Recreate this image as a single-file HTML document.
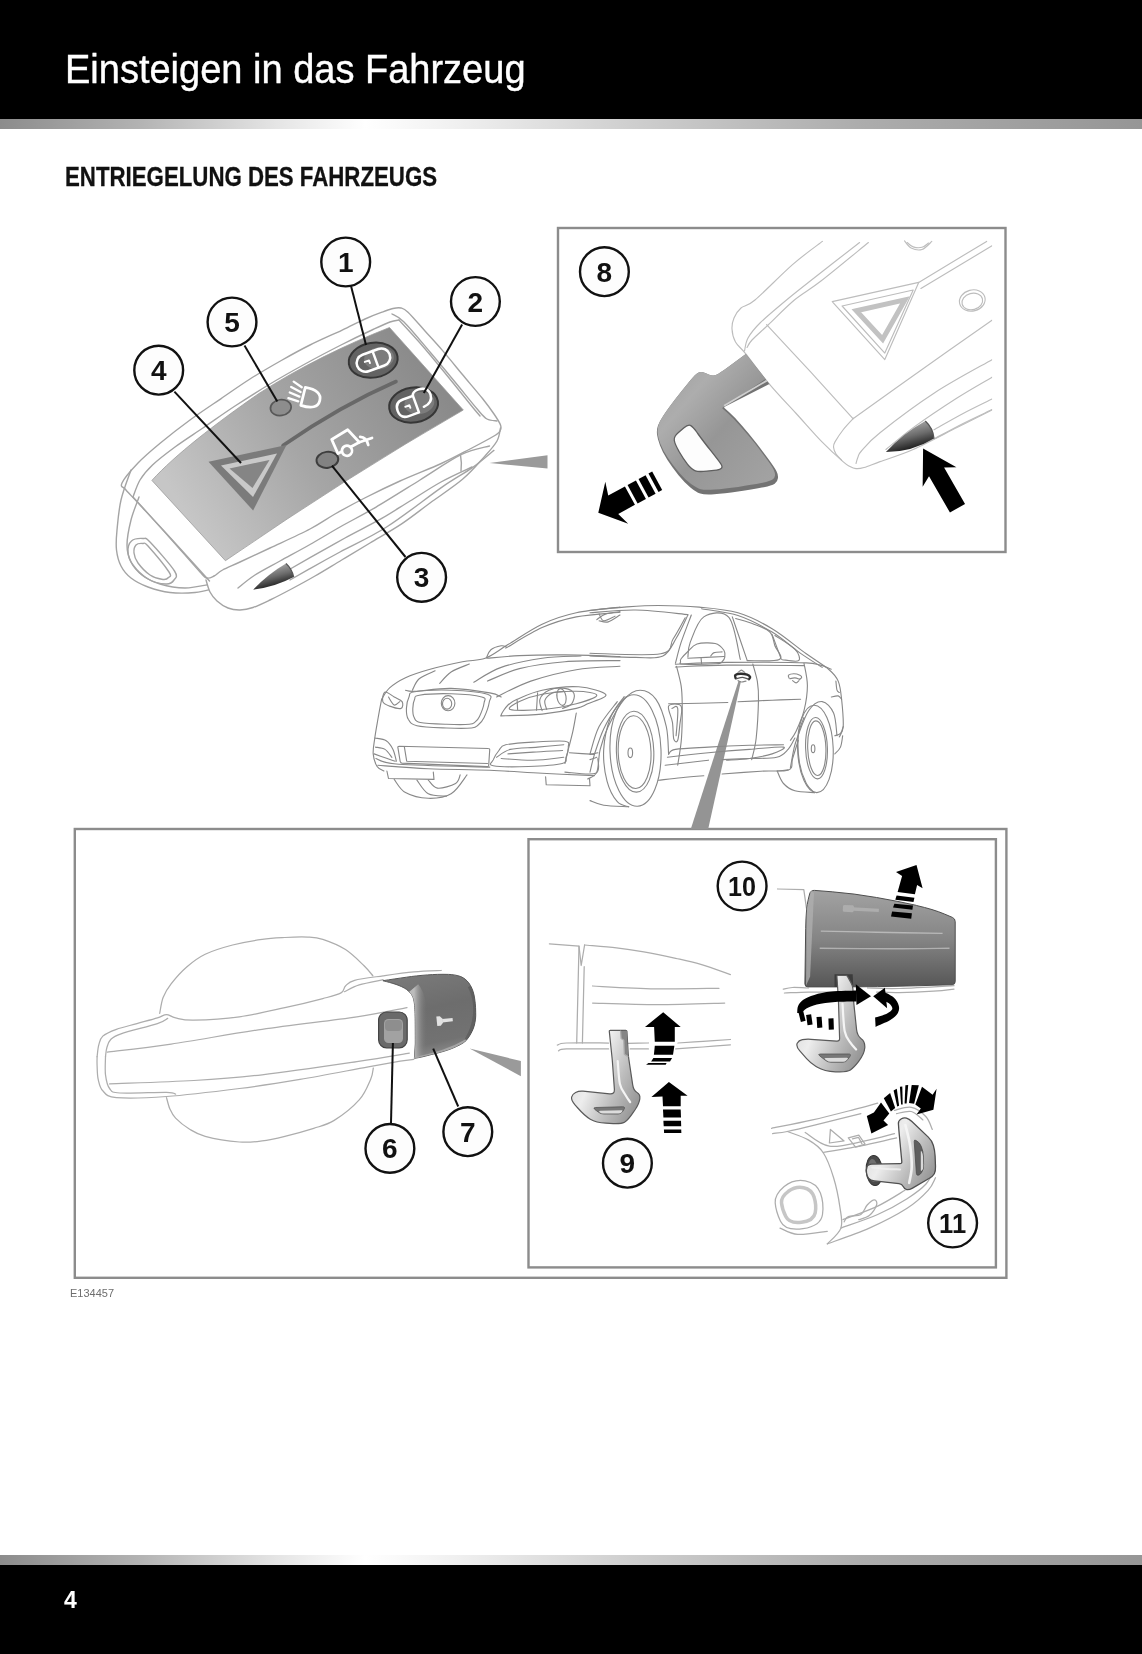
<!DOCTYPE html>
<html lang="de">
<head>
<meta charset="utf-8">
<title>Einsteigen in das Fahrzeug</title>
<style>
html,body{margin:0;padding:0;background:#fff;}
body{width:1142px;height:1654px;position:relative;overflow:hidden;filter:grayscale(1);font-family:"Liberation Sans",sans-serif;}
.hdr{position:absolute;left:0;top:0;width:1142px;height:119px;background:#000;}
.bar{position:absolute;left:0;width:1142px;height:10px;background:linear-gradient(90deg,#8c8c8c 0%,#b2b2b2 12%,#e4e4e4 24%,#ffffff 32%,#f0f0f0 40%,#cfcfcf 55%,#adadad 75%,#969696 100%);}
.bar.t{top:119px;}
.bar.b{top:1555px;}
.ftr{position:absolute;left:0;top:1565px;width:1142px;height:89px;background:#000;}
.title{position:absolute;left:65px;top:46px;color:#fff;font-size:40px;line-height:46px;white-space:nowrap;transform-origin:0 0;transform:scaleX(0.950);-webkit-text-stroke:0.4px #fff;}
.h2{position:absolute;left:65px;top:162px;color:#111;font-weight:bold;font-size:27px;line-height:30px;white-space:nowrap;transform-origin:0 0;transform:scaleX(0.824);-webkit-text-stroke:0.3px #111;}
.pn{position:absolute;left:64px;top:1587px;color:#fff;font-size:23px;line-height:26px;font-weight:bold;}
.fig{position:absolute;left:70px;top:1285.5px;color:#6e6e6e;font-size:11px;line-height:14px;}
#ill{position:absolute;left:0;top:0;}
#ill text{font-family:"Liberation Sans",sans-serif;font-weight:bold;font-size:28px;fill:#111;text-anchor:middle;}
.ln{fill:none;stroke:#adadad;stroke-width:1.25;stroke-linecap:round;stroke-linejoin:round;}
#fob .ln{stroke:#a4a4a4;stroke-width:1.4;}
.car{fill:none;stroke:#888;stroke-width:1.12;stroke-linecap:round;stroke-linejoin:round;}
.lg{fill:none;stroke:#bdbdbd;stroke-width:1.15;stroke-linecap:round;stroke-linejoin:round;}
.frm{fill:none;stroke:#8c8c8c;stroke-width:2.4;}
.ld{stroke:#111;stroke-width:2;fill:none;}
.cn{fill:#fdfdfd;stroke:#111;stroke-width:2.4;}
.blk{fill:#000;}
</style>
</head>
<body>
<div class="hdr"></div>
<div class="bar t"></div>
<div class="title" id="title">Einsteigen in das Fahrzeug</div>
<div class="h2" id="h2">ENTRIEGELUNG DES FAHRZEUGS</div>
<svg id="ill" width="1142" height="1654" viewBox="0 0 1142 1654">
<defs>
<linearGradient id="gPanel" gradientUnits="userSpaceOnUse" x1="190" y1="520" x2="430" y2="370"><stop offset="0" stop-color="#c6c6c6"/><stop offset="0.45" stop-color="#a6a6a6"/><stop offset="1" stop-color="#8a8a8a"/></linearGradient>
<linearGradient id="gCone" x1="0.3" y1="0" x2="0.7" y2="1"><stop offset="0" stop-color="#bdbdbd"/><stop offset="0.5" stop-color="#6a6a6a"/><stop offset="1" stop-color="#000"/></linearGradient>
<linearGradient id="gKey" x1="0" y1="0" x2="1" y2="1"><stop offset="0" stop-color="#9a9a9a"/><stop offset="0.3" stop-color="#adadad"/><stop offset="0.55" stop-color="#969696"/><stop offset="1" stop-color="#a4a4a4"/></linearGradient>
<linearGradient id="gKeyL" x1="0" y1="0.1" x2="1" y2="0.7"><stop offset="0" stop-color="#d2d2d2"/><stop offset="0.4" stop-color="#ededed"/><stop offset="0.72" stop-color="#bdbdbd"/><stop offset="1" stop-color="#989898"/></linearGradient>
<linearGradient id="gCap7" x1="0.2" y1="0" x2="0.45" y2="1"><stop offset="0" stop-color="#7a7a7a"/><stop offset="0.45" stop-color="#6d6d6d"/><stop offset="0.85" stop-color="#727272"/><stop offset="1" stop-color="#8a8a8a"/></linearGradient>
<linearGradient id="gCap10" x1="0" y1="0" x2="0" y2="1"><stop offset="0" stop-color="#a2a2a2"/><stop offset="0.5" stop-color="#858585"/><stop offset="1" stop-color="#565656"/></linearGradient>
<linearGradient id="gCapL" gradientUnits="userSpaceOnUse" x1="414" y1="0" x2="427" y2="0"><stop offset="0" stop-color="#c4c4c4" stop-opacity="0.9"/><stop offset="0.4" stop-color="#a4a4a4" stop-opacity="0.55"/><stop offset="1" stop-color="#7a7a7a" stop-opacity="0"/></linearGradient>
</defs>
<!-- frames -->
<rect class="frm" x="558" y="228" width="447.5" height="324"/>
<rect class="frm" x="74.8" y="829" width="931.6" height="448.8"/>
<rect class="frm" x="528.5" y="839.2" width="467.4" height="428.2"/>
<!-- callout wedges -->
<polygon points="489.5,463 547.5,455.3 547.5,468.6" fill="#9a9a9a"/>
<polygon points="469.6,1048.6 520.9,1061 520.9,1076.2" fill="#9a9a9a"/>
<!-- key fob -->
<g id="fob">
<path d="M131.0,470.0 C129.3,475.0 123.3,490.0 121.0,500.0 C118.7,510.0 117.8,521.7 117.0,530.0 C116.2,538.3 115.8,544.0 116.5,550.0 C117.2,556.0 118.6,561.3 121.0,566.0 C123.4,570.7 126.5,574.5 131.0,578.0 C135.5,581.5 141.5,584.6 148.0,587.0 C154.5,589.4 162.2,591.6 170.0,592.5 C177.8,593.4 187.5,593.2 195.0,592.5 C202.5,591.8 211.7,588.8 215.0,588.0 L215,560 L140,470Z" fill="#fff" stroke="none"/>
<path class="ln" d="M131.0,470.0 C129.3,475.0 123.3,490.0 121.0,500.0 C118.7,510.0 117.8,521.7 117.0,530.0 C116.2,538.3 115.8,544.0 116.5,550.0 C117.2,556.0 118.6,561.3 121.0,566.0 C123.4,570.7 126.5,574.5 131.0,578.0 C135.5,581.5 141.5,584.6 148.0,587.0 C154.5,589.4 162.2,591.6 170.0,592.5 C177.8,593.4 187.5,593.2 195.0,592.5 C202.5,591.8 211.7,588.8 215.0,588.0"/>
<path class="ln" d="M139.0,497.0 C137.7,500.8 133.0,512.0 131.0,520.0 C129.0,528.0 127.0,538.0 127.0,545.0 C127.0,552.0 128.5,557.0 131.0,562.0 C133.5,567.0 137.2,571.3 142.0,575.0 C146.8,578.7 152.8,581.8 160.0,584.0 C167.2,586.2 176.3,588.0 185.0,588.0 C193.7,588.0 207.5,584.7 212.0,584.0"/>
<path class="ln" d="M131.5,541.0 C134.0,538.8 139.9,538.3 143.0,538.5 C146.1,538.7 144.8,536.6 150.0,542.0 C155.2,547.4 170.5,564.7 174.5,571.0 C178.5,577.3 175.4,577.8 174.0,580.0 C172.6,582.2 170.3,584.2 166.0,584.0 C161.7,583.8 153.5,582.2 148.0,579.0 C142.5,575.8 136.3,569.5 133.0,565.0 C129.7,560.5 128.2,556.0 128.0,552.0 C127.8,548.0 129.0,543.2 131.5,541.0Z" fill="#fff"/>
<path class="ln" d="M136.0,545.0 C137.5,543.4 141.0,543.3 143.0,543.5 C145.0,543.7 143.7,541.2 148.0,546.0 C152.3,550.8 165.6,566.8 169.0,572.0 C172.4,577.2 169.5,576.2 168.5,577.5 C167.5,578.8 166.1,579.9 163.0,579.5 C159.9,579.1 154.2,577.8 150.0,575.0 C145.8,572.2 140.7,566.7 138.0,563.0 C135.3,559.3 134.3,556.0 134.0,553.0 C133.7,550.0 134.5,546.6 136.0,545.0Z"/>
<path d="M500.5,428.0 C499.9,430.2 499.6,436.3 497.0,441.0 C494.4,445.7 490.8,449.6 485.0,456.0 C479.2,462.4 471.7,471.5 462.5,479.3 C453.3,487.1 440.1,495.6 430.0,503.0 C419.9,510.4 412.0,516.9 402.0,523.6 C392.0,530.3 380.1,536.9 370.0,543.0 C359.9,549.1 350.9,554.5 341.7,560.0 C332.5,565.5 323.1,571.3 315.0,576.0 C306.9,580.7 300.8,584.0 293.3,588.0 C285.8,592.0 276.7,596.8 270.0,600.0 C263.3,603.2 258.0,605.8 253.0,607.5 C248.0,609.2 244.2,609.9 240.0,610.0 C235.8,610.1 231.8,609.5 228.0,608.0 C224.2,606.5 220.0,603.7 217.0,601.0 C214.0,598.3 211.8,595.5 210.0,592.0 C208.2,588.5 206.7,582.0 206.0,580.0 L214,560 L480,410Z" fill="#fff" stroke="none"/>
<path class="ln" d="M500.5,428.0 C499.9,430.2 499.6,436.3 497.0,441.0 C494.4,445.7 490.8,449.6 485.0,456.0 C479.2,462.4 471.7,471.5 462.5,479.3 C453.3,487.1 440.1,495.6 430.0,503.0 C419.9,510.4 412.0,516.9 402.0,523.6 C392.0,530.3 380.1,536.9 370.0,543.0 C359.9,549.1 350.9,554.5 341.7,560.0 C332.5,565.5 323.1,571.3 315.0,576.0 C306.9,580.7 300.8,584.0 293.3,588.0 C285.8,592.0 276.7,596.8 270.0,600.0 C263.3,603.2 258.0,605.8 253.0,607.5 C248.0,609.2 244.2,609.9 240.0,610.0 C235.8,610.1 231.8,609.5 228.0,608.0 C224.2,606.5 220.0,603.7 217.0,601.0 C214.0,598.3 211.8,595.5 210.0,592.0 C208.2,588.5 206.7,582.0 206.0,580.0"/>
<path class="ln" d="M489.5,446.0 C484.8,447.4 472.6,449.0 461.0,454.7 C449.4,460.4 434.2,471.2 420.0,480.0 C405.8,488.8 389.0,499.5 375.7,507.3 C362.4,515.1 350.9,520.8 340.0,527.0 C329.1,533.2 320.0,538.8 310.0,544.5 C300.0,550.2 289.2,555.9 280.0,561.0 C270.8,566.1 262.0,570.5 255.0,575.0 C248.0,579.5 240.8,585.8 238.0,588.0"/>
<path class="ln" d="M472.0,467.0 C466.8,469.5 451.3,476.3 441.0,482.0 C430.7,487.7 419.8,495.0 410.0,501.0 C400.2,507.0 393.0,512.0 382.2,518.2 C371.4,524.4 357.0,531.4 345.0,538.0 C333.0,544.6 320.0,551.9 310.0,557.6 C300.0,563.3 292.0,567.9 285.0,572.0 C278.0,576.1 270.8,580.3 268.0,582.0"/>
<path class="ln" d="M460.5,455 Q462,463 461,471"/>
<path class="ln" d="M493.9,450.4 C490.2,453.3 480.8,461.7 472.0,467.9 C463.2,474.1 455.5,477.8 441.3,487.6 C427.1,497.5 403.5,516.3 386.6,527.0 C369.7,537.7 352.8,545.1 340.0,552.0 C327.2,558.9 318.3,563.9 310.0,568.6 C301.7,573.3 293.3,578.1 290.0,580.0"/>
<path class="ln" d="M122.0,483.0 C124.0,478.5 131.6,469.7 138.0,463.0 C144.4,456.3 151.7,450.2 160.4,443.0 C169.1,435.8 179.9,427.4 190.0,420.0 C200.1,412.6 210.8,405.6 220.8,398.8 C230.8,392.0 239.9,385.4 250.0,379.0 C260.1,372.6 271.3,366.2 281.3,360.5 C291.3,354.8 299.9,350.0 310.0,345.0 C320.1,340.0 332.5,334.6 341.7,330.3 C350.9,326.0 358.3,322.0 365.0,319.0 C371.7,316.0 377.3,313.9 382.0,312.2 C386.7,310.4 389.8,309.2 393.0,308.5 C396.2,307.8 398.5,307.4 401.0,308.0 C403.5,308.6 404.0,308.4 408.0,312.2 C412.0,316.0 419.3,324.6 425.0,331.0 C430.7,337.4 436.2,343.2 442.4,350.4 C448.6,357.6 455.3,365.9 462.0,374.0 C468.7,382.1 477.4,392.1 482.7,398.8 C488.0,405.5 491.0,409.6 494.0,414.0 C497.0,418.4 499.5,422.2 500.5,425.0 C501.5,427.8 501.1,429.2 500.0,431.0 C498.9,432.8 499.0,433.0 494.0,436.0 C489.0,439.0 478.8,444.4 470.0,449.0 C461.2,453.6 453.0,458.2 441.3,463.5 C429.6,468.8 412.8,475.2 400.0,481.0 C387.2,486.8 375.5,492.5 364.7,498.0 C353.9,503.5 344.1,508.8 335.0,514.0 C325.9,519.2 320.8,523.3 310.0,529.0 C299.2,534.7 281.7,542.5 270.0,548.0 C258.3,553.5 247.9,558.3 240.0,562.0 C232.1,565.7 226.9,567.7 222.6,570.0 C218.3,572.3 216.6,574.7 214.0,576.0 C211.4,577.3 209.3,578.7 207.0,578.0 C204.7,577.3 206.2,578.7 200.0,572.0 C193.8,565.3 180.0,549.2 170.0,538.0 C160.0,526.8 147.3,513.0 140.0,505.0 C132.7,497.0 129.0,493.7 126.0,490.0 C123.0,486.3 120.0,487.5 122.0,483.0Z" fill="#fff"/>
<path class="ln" d="M133.0,497.0 C134.2,494.2 136.8,485.3 140.0,480.0 C143.2,474.7 146.7,470.5 152.5,465.0 C158.3,459.5 166.6,453.2 175.0,447.0 C183.4,440.8 192.9,434.8 202.9,428.0 C212.9,421.2 223.8,413.3 235.0,406.0 C246.2,398.7 258.3,391.0 270.0,384.0 C281.7,377.0 293.2,370.5 305.0,364.0 C316.8,357.5 329.8,350.7 341.0,345.0 C352.2,339.3 363.8,333.8 372.0,330.0 C380.2,326.2 385.5,323.7 390.0,322.0 C394.5,320.3 397.5,320.3 399.0,320.0"/>
<path class="ln" d="M133.0,497.0 C138.3,502.8 154.7,520.7 165.0,532.0 C175.3,543.3 187.6,556.8 195.0,565.0 C202.4,573.2 207.1,578.3 209.5,581.0"/>
<path class="ln" d="M399.0,320.0 C402.5,323.8 412.3,334.2 420.0,343.0 C427.7,351.8 436.7,362.8 445.0,373.0 C453.3,383.2 464.2,396.8 470.0,404.0 C475.8,411.2 478.3,414.0 480.0,416.0"/>
<path class="ln" d="M392.0,314.0 C394.0,315.3 397.7,315.7 404.0,322.0 C410.3,328.3 421.5,342.0 430.0,352.0 C438.5,362.0 447.0,372.3 455.0,382.0 C463.0,391.7 472.7,403.8 478.0,410.0 C483.3,416.2 483.8,417.2 487.0,419.0 C490.2,420.8 495.3,420.7 497.0,421.0"/>
<path d="M151.9,480.4 C175,455 215,424 259,393.4 C300,367 345,345 389.5,327.5 L463.3,410 Q350,475 225.4,560.7 Z" fill="url(#gPanel)" stroke="#9c9c9c" stroke-width="0.8"/>
<path d="M396,381.5 Q340,406 283,445.5" fill="none" stroke="#686868" stroke-width="3.6" stroke-linecap="round"/>
<polygon points="208.5,461.8 286.5,445 253.1,510.5" fill="#7b7b7b"/>
<polygon points="221,465.5 277,453.5 253,497" fill="#c9c9c9"/>
<polygon points="229.5,468.5 269.5,460 252.5,488" fill="#858585"/>
<ellipse cx="280.8" cy="407.6" rx="10.4" ry="7.9" fill="#8d8d8d" stroke="#585858" stroke-width="1.7" transform="rotate(-8 280.8 407.6)"/>
<ellipse cx="327.4" cy="459.8" rx="10.9" ry="8" fill="#828282" stroke="#3e3e3e" stroke-width="2" transform="rotate(-8 327.4 459.8)"/>
<g transform="translate(373.2 360.2) rotate(-9)">
<ellipse cx="0" cy="0" rx="24.6" ry="17.4" fill="#636363" stroke="#363636" stroke-width="2"/>
<ellipse cx="6" cy="-1" rx="15" ry="11" fill="#7c7c7c"/>
<g transform="rotate(-11)" fill="none" stroke="#fff" stroke-width="2.5" stroke-linejoin="round" stroke-linecap="round">
<rect x="-17" y="-8.8" width="34.5" height="17.6" rx="8.8"/>
<path d="M2.5,-8.8 L2.5,8.8"/>
<path d="M-8.5,-1.2 L-4,-1.2 L-4,1.6" stroke-width="1.9"/>
</g></g>
<g transform="translate(413.6 405.0) rotate(-9)">
<ellipse cx="0" cy="0" rx="24.6" ry="17.4" fill="#636363" stroke="#363636" stroke-width="2"/>
<ellipse cx="6" cy="-1" rx="15" ry="11" fill="#7c7c7c"/>
<g transform="rotate(-11)" fill="none" stroke="#fff" stroke-width="2.5" stroke-linejoin="round" stroke-linecap="round">
<path d="M2.5,-8.8 L-8.2,-8.8 Q-17,-8.8 -17,0 Q-17,8.8 -8.2,8.8 L2.5,8.8 Z"/>
<path d="M2.5,-8.8 Q3,-13 10,-13 Q19.5,-12.5 19.5,-4 Q19,4.5 9,5.2"/>
<path d="M-8.5,-1.2 L-4,-1.2 L-4,1.6" stroke-width="1.9"/>
</g></g>
<g transform="translate(307.5 397.5) rotate(14) scale(1.15)" fill="none" stroke="#fff" stroke-width="2.4" stroke-linecap="round" stroke-linejoin="round">
<path d="M-4,-8 L-4,8 Q11,9 11,0 Q11,-9 -4,-8Z"/>
<path d="M-7,-7.5 L-15,-10.5 M-7,-3.2 L-16,-5.5 M-7,1 L-16,-0.5 M-7,5.2 L-16,4.5" stroke-width="2"/>
</g>
<g transform="translate(350 443.5) rotate(-28) scale(1.1)" fill="none" stroke="#fff" stroke-width="2.5" stroke-linejoin="round" stroke-linecap="round">
<path d="M-13,-11 L4,-12 L8,3 L-1,3 M-10,3 L-14,3 L-13,-11"/>
<circle cx="-5.5" cy="4.5" r="4.6"/>
<path d="M8,3 L20,5 M11,-1 Q16,2 14,9"/>
</g>
<path d="M253.2,589.6 Q268,574 286,563.5 Q292,569 293.7,577 Q275,587 253.2,589.6Z" fill="url(#gCone)"/>
<path d="M286,563.5 Q292,569 293.7,577" fill="none" stroke="#555" stroke-width="1.2"/>
</g>
<!-- frame 8: key blade removal -->
<g id="f8">
<clipPath id="clip8"><rect x="559.2" y="229.2" width="433" height="321.6"/></clipPath>
<g clip-path="url(#clip8)">
<path class="lg" d="M822.4,241.4 C817.5,245.2 804.0,254.6 792.8,264.4 C781.6,274.2 763.6,292.7 755.0,300.0 C746.4,307.3 744.5,305.0 741.0,308.0 C737.5,311.0 735.5,314.5 734.0,318.0 C732.5,321.5 731.8,325.0 732.0,329.0 C732.2,333.0 733.2,337.9 735.5,342.0 C737.8,346.1 740.1,346.9 745.8,353.9 C751.4,360.9 761.1,374.2 769.4,384.1 C777.7,394.0 786.9,403.4 795.7,413.0 C804.5,422.6 814.1,433.8 822.0,441.9 C829.9,450.0 838.3,457.5 843.0,461.6 C847.7,465.7 847.8,465.3 850.0,466.5 C852.2,467.7 853.7,468.4 856.0,468.6 C858.3,468.8 860.0,468.7 864.0,467.5 C868.0,466.3 871.8,464.6 880.0,461.6 C888.2,458.6 900.4,455.2 913.2,449.5 C926.0,443.8 943.9,434.2 957.0,427.6 C970.1,421.0 986.2,413.0 992.0,410.1"/>
<path class="lg" d="M859.6,242.5 C852.1,248.3 826.9,267.9 814.7,277.5 C802.5,287.1 795.6,292.4 786.5,300.0 C777.4,307.6 766.4,316.7 760.0,323.0 C753.6,329.3 750.6,333.3 748.0,338.0 C745.4,342.7 745.1,348.8 744.5,351.0"/>
<path class="lg" d="M868.4,242.5 C860.5,248.9 833.6,271.2 821.3,280.8 C809.0,290.4 803.3,292.6 794.4,300.0 C785.5,307.4 775.2,318.3 768.1,325.0 C761.0,331.7 755.5,336.2 752.0,340.0 C748.5,343.8 747.8,346.2 747.0,347.5"/>
<path class="lg" d="M766.6,324.6 C773.9,332.5 796.0,356.0 810.4,371.7 C824.8,387.4 845.9,410.9 853.0,418.7"/>
<path class="lg" d="M853.0,418.7 C864.5,410.5 898.8,385.9 922.0,369.5 C945.2,353.1 980.3,328.4 992.0,320.2"/>
<path class="lg" d="M853.5,418.2 C851.8,420.2 846.1,426.1 843.0,430.0 C839.9,433.9 836.6,439.1 835.0,441.9 C833.4,444.7 833.3,445.0 833.5,447.0 C833.7,449.0 834.6,451.8 836.0,454.0 C837.4,456.2 840.8,459.2 841.7,460.3"/>
<path class="lg" d="M856.0,463.5 C856.3,462.4 857.1,459.1 858.0,457.0 C858.9,454.9 857.7,455.1 861.4,451.0 C865.1,446.9 867.7,442.4 880.0,432.7 C892.3,422.9 916.4,404.7 935.1,392.5 C953.8,380.3 982.5,365.2 992.0,359.7"/>
<path class="lg" d="M885.9,449.5 C890.5,445.9 901.4,436.2 913.2,427.6 C925.1,419.0 943.9,406.4 957.0,398.0 C970.1,389.6 986.2,380.7 992.0,377.2"/>
<path class="lg" d="M934.0,429.8 C938.9,427.1 953.9,418.4 963.6,413.3 C973.3,408.2 987.3,401.5 992.0,399.1"/>
<path class="lg" d="M934.0,438.9 C938.9,436.3 953.9,428.1 963.6,423.2 C973.3,418.3 987.3,411.9 992.0,409.6"/>
<path class="lg" d="M832.2,301.6 L918.7,282.4 L884.8,359.6Z"/>
<path class="lg" d="M842.1,306.0 L913.2,290.0 L884.8,353.1Z"/>
<path d="M856.3,310.8 L904.9,299.9 L882.6,339.3Z" fill="none" stroke="#c2c2c2" stroke-width="5" stroke-linejoin="miter"/>
<path class="lg" d="M918.7,282.4 L986.6,241.4"/>
<path class="lg" d="M920.9,288.5 L992.0,245.8"/>
<ellipse class="lg" cx="972.3" cy="300.5" rx="13" ry="10.5" transform="rotate(-15 972.3 300.5)"/>
<ellipse class="lg" cx="972.3" cy="301.5" rx="10.5" ry="8.2" transform="rotate(-15 972.3 301.5)"/>
<path class="lg" d="M904.5,240.8 C905.6,242.0 908.2,246.6 911.1,248.0 C914.0,249.4 918.5,250.6 922.0,249.5 C925.5,248.4 930.2,242.8 931.8,241.4"/>
<path class="lg" d="M907.1,242.5 C908.1,243.2 910.7,246.1 913.2,246.9 C915.7,247.7 919.4,248.0 922.0,247.3 C924.6,246.7 927.5,243.7 928.6,243.0"/>
<path d="M885.9,452.1 Q902.0,434.0 925.3,421.0 Q933.0,428.0 934.0,438.5 Q912.0,452.0 885.9,452.1 Z" fill="url(#gCone)"/>
<path d="M925.3,421.0 Q933,428 934.0,438.5" fill="none" stroke="#555" stroke-width="1.3"/>
</g>
<path d="M745.8,353.9 Q745.8,353.9 745.8,353.9 L728.9,366.5 Q724.1,370.1 720.2,372.6 L718.9,373.4 Q716.4,375.0 714.0,375.4 L714.0,375.4 Q711.5,375.9 708.6,374.5 L708.6,374.5 Q705.8,373.1 703.0,372.3 L703.0,372.3 Q700.2,371.5 697.8,372.9 L697.8,372.9 Q695.3,374.3 690.2,380.5 L688.6,382.4 Q682.0,390.4 675.0,399.5 L675.0,399.5 Q668.0,408.7 663.8,415.0 L663.8,415.0 Q659.6,421.3 658.0,425.5 L658.0,425.5 Q656.5,429.7 657.0,434.2 L657.0,434.2 Q657.5,438.8 660.0,445.5 L660.0,445.5 Q662.4,452.1 667.3,459.8 L667.3,459.8 Q672.2,467.5 678.5,475.2 L678.5,475.2 Q684.8,482.9 690.4,487.4 L690.4,487.4 Q696.0,492.0 700.2,493.5 L700.2,493.5 Q704.4,495.0 714.2,494.3 L714.2,494.3 Q724.1,493.6 738.1,491.5 L738.1,491.5 Q752.1,489.4 761.9,487.5 L763.8,487.2 Q771.7,485.7 774.7,483.8 L774.7,483.8 Q777.6,481.8 778.0,478.1 L778.0,478.1 Q778.3,474.5 776.4,471.0 L776.4,471.0 Q774.5,467.5 768.9,459.8 L768.9,459.8 Q763.3,452.1 756.3,443.0 L756.3,443.0 Q749.3,433.9 742.3,425.9 L742.3,425.9 Q735.3,417.8 729.5,412.6 L724.5,408.0 Q723.8,407.3 724.7,406.8 L769.4,384.1 Q769.4,384.1 769.4,384.1Z" fill="#737373"/>
<path d="M745.8,353.9 Q745.8,353.9 745.8,353.9 L728.9,366.5 Q724.1,370.1 720.2,372.6 L718.9,373.4 Q716.4,375.0 714.0,375.4 L714.0,375.4 Q711.5,375.9 708.6,374.5 L708.6,374.5 Q705.8,373.1 703.0,372.3 L703.0,372.3 Q700.2,371.5 697.8,372.9 L697.8,372.9 Q695.3,374.3 690.2,380.5 L688.6,382.4 Q682.0,390.4 675.0,399.5 L675.0,399.5 Q668.0,408.7 663.8,415.0 L663.8,415.0 Q659.6,421.3 658.4,425.5 L658.4,425.5 Q657.1,429.7 657.7,433.9 L657.7,433.9 Q658.2,438.1 660.6,444.4 L660.7,444.4 Q663.1,450.7 668.0,458.1 L668.0,458.0 Q672.9,465.4 679.2,472.8 L679.2,472.8 Q685.5,480.1 691.1,484.1 L691.1,484.1 Q696.7,488.2 700.7,489.2 L700.7,489.2 Q704.7,490.2 714.4,489.5 L714.4,489.5 Q724.1,488.8 738.1,486.9 L738.1,486.9 Q752.1,484.9 761.2,483.1 L762.5,482.8 Q770.3,481.2 772.5,479.6 L772.5,479.6 Q774.8,478.0 775.0,475.6 L775.0,475.6 Q775.2,473.1 773.8,470.0 L773.8,470.0 Q772.4,466.8 767.0,459.5 L767.0,459.5 Q761.6,452.1 754.6,443.1 L754.6,443.1 Q747.6,434.2 740.6,426.4 L740.6,426.4 Q733.6,418.5 727.8,413.3 L722.7,408.8 Q722.0,408.1 722.8,407.5 L765.5,379.0 Q765.5,379.0 765.5,379.0Z" fill="url(#gKey)"/>
<path d="M724.1,405.8 L766.8,380.6" fill="none" stroke="#cfcfcf" stroke-width="1.8"/>
<path d="M690.8,425.6 Q688.3,424.1 683.7,428.0 L678.2,432.8 Q673.6,436.7 674.3,440.5 L674.3,440.5 Q675.0,444.4 679.0,451.3 L679.2,451.8 Q683.4,459.1 687.6,464.4 L687.6,464.4 Q691.8,469.6 695.3,470.8 L695.3,470.8 Q698.8,472.0 706.8,471.1 L713.9,470.4 Q719.9,469.7 721.4,468.2 L721.4,468.2 Q722.9,466.8 720.7,463.6 L720.7,463.6 Q718.5,460.5 710.8,450.7 L710.8,450.7 Q703.0,440.9 698.1,434.0 L696.7,432.0 Q693.2,427.1 690.8,425.6Z" fill="#fdfdfd" stroke="#5f5f5f" stroke-width="1.3"/>
<g transform="translate(598.3 512.8) rotate(151.5)" class="blk"><polygon points="0,0 -21,-24 -17,-10.5 -36,-10.5 -36,10.5 -17,10.5 -21,24"/><rect x="-48.5" y="-10.5" width="9.5" height="21"/><rect x="-59.5" y="-10.5" width="8" height="21"/><rect x="-67" y="-10.5" width="4.2" height="21"/></g>
<g transform="translate(923.1 448.4) rotate(-119.9)" class="blk"><polygon points="0,0 -33,-19.5 -27,-8.7 -69,-8.7 -69,8.7 -27,8.7 -33,19.5"/></g>
</g>
<!-- car -->
<g id="car">
<polygon points="738.5,681 741,681 708.2,829 690.8,829" fill="#949494"/>
<path class="car" d="M381.6,699.3 C382.9,697.4 385.6,691.5 389.6,687.9 C393.6,684.3 399.1,680.7 405.5,677.7 C411.9,674.7 418.8,672.4 428.3,669.7 C437.8,667.0 453.0,663.6 462.5,661.7 C472.0,659.8 477.6,661.1 485.2,658.3 C492.8,655.4 498.5,650.3 508.0,644.6 C517.5,638.9 530.7,629.5 542.1,624.2 C553.5,618.9 563.3,615.6 576.3,612.8 C589.3,609.9 612.7,608.0 620.0,607.1"/>
<path class="car" d="M486.4,657.9 C487.1,656.5 488.4,651.7 490.9,649.7 C493.4,647.7 498.6,646.3 501.2,645.8 C503.8,645.3 505.4,646.7 506.2,646.9"/>
<path class="car" d="M487.5,658.3 C492.8,657.8 506.5,656.2 519.4,655.6 C532.3,655.0 548.1,654.8 564.9,654.9 C581.7,655.0 610.8,656.2 620.0,656.5"/>
<path class="car" d="M505.7,648.1 C511.8,644.7 530.3,632.8 542.1,627.6 C553.9,622.4 563.3,619.5 576.3,616.9 C589.3,614.3 612.7,613.1 620.0,612.3"/>
<path class="car" d="M439.7,683.4 C441.6,681.5 446.2,675.2 451.1,672.0 C456.0,668.8 466.3,665.3 469.3,664.0"/>
<path class="car" d="M473.8,682.2 C478.4,679.7 489.8,671.4 501.2,667.4 C512.6,663.4 528.8,660.2 542.1,658.3 C555.4,656.4 574.4,656.4 580.9,656.0"/>
<path class="car" d="M412.4,690.2 C413.5,688.3 415.4,682.0 419.2,678.8 C423.0,675.6 432.5,672.1 435.1,670.8"/>
<path class="car" d="M487.5,681.1 C492.8,679.0 506.5,671.8 519.4,668.6 C532.3,665.4 548.1,663.0 564.9,661.7 C581.7,660.4 610.8,660.8 620.0,660.6"/>
<path class="car" d="M496.6,697.0 C502.3,694.4 517.5,685.6 530.8,681.1 C544.1,676.6 561.4,672.2 576.3,669.7 C591.2,667.2 612.7,666.9 620.0,666.3"/>
<path class="car" d="M596.8,619.6 C598.3,618.6 602.0,615.2 605.9,613.9 C609.8,612.6 617.6,612.0 620.0,611.6"/>
<path class="car" d="M599.1,620.7 C600.6,620.9 604.7,622.9 608.2,621.9 C611.7,620.9 618.0,616.1 620.0,615.0"/>
<path class="car" d="M381.6,699.3 C381.0,702.3 379.3,711.0 378.2,717.5 C377.1,724.0 375.6,731.9 374.8,738.0 C374.0,744.1 372.8,749.1 373.2,753.9 C373.6,758.6 375.3,763.6 377.1,766.5 C378.9,769.4 382.8,770.2 383.9,771.0"/>
<path class="car" d="M377.8,765.3 C386.2,765.9 409.6,767.9 428.3,768.7 C447.0,769.5 470.8,769.5 489.8,770.3 C508.8,771.1 524.6,772.4 542.1,773.3 C559.6,774.2 585.8,775.2 594.5,775.6"/>
<path class="car" d="M375.9,758.5 C379.7,759.5 379.7,762.8 398.7,764.2 C417.7,765.6 474.6,766.6 489.8,767.1"/>
<path class="car" d="M564.9,772.1 C570.0,772.3 590.2,775.6 595.7,773.3 C601.2,771.0 597.5,761.0 597.9,758.5"/>
<path class="car" d="M409.0,697.0 C410.4,694.2 407.6,692.9 414.6,691.8 C421.6,690.7 439.0,689.8 451.1,690.2 C463.2,690.6 481.1,692.3 487.5,694.3 C493.9,696.3 489.9,698.1 489.3,702.0 C488.7,705.9 485.9,713.7 484.1,717.5 C482.3,721.3 480.5,723.0 478.4,724.8 C476.3,726.5 476.9,727.5 471.6,728.0 C466.3,728.5 455.6,728.4 446.5,728.0 C437.4,727.6 423.3,727.2 416.9,725.7 C410.5,724.2 410.1,722.2 408.3,719.3 C406.6,716.4 406.3,712.1 406.4,708.4 C406.5,704.7 407.6,699.8 409.0,697.0Z" stroke-width="1.6"/>
<path class="car" d="M414.6,699.3 C415.7,697.1 413.1,696.1 419.2,695.2 C425.3,694.3 440.7,693.5 451.1,693.8 C461.5,694.1 476.3,695.5 481.8,697.0 C487.3,698.5 484.5,699.5 484.1,702.7 C483.7,705.9 481.0,713.2 479.5,716.4 C478.0,719.6 476.7,720.8 475.0,722.1 C473.3,723.4 474.1,723.9 469.3,724.3 C464.6,724.7 454.7,724.6 446.5,724.3 C438.3,724.0 425.7,723.6 420.3,722.5 C414.9,721.4 415.4,719.9 414.2,717.5 C412.9,715.1 412.7,711.4 412.8,708.4 C412.9,705.4 413.5,701.5 414.6,699.3Z"/>
<ellipse class="car" cx="448.1" cy="703.2" rx="6.8" ry="7.6"/>
<ellipse class="car" cx="447.1" cy="703.7" rx="4.6" ry="5.4"/>
<path class="car" d="M385.0,692.0 C386.9,691.2 391.3,695.4 394.2,697.0 C397.1,698.6 401.0,699.7 402.1,701.6 C403.2,703.5 403.1,707.6 401.0,708.4 C398.9,709.1 392.6,707.2 389.6,706.1 C386.6,705.0 383.6,704.0 382.8,701.6 C382.0,699.2 383.1,692.8 385.0,692.0Z"/>
<path class="car" d="M388.5,697.0 C389.4,698.3 392.3,704.2 394.2,705.0 C396.1,705.8 398.9,702.2 399.8,701.6"/>
<path class="car" d="M405.5,690.2 C407.0,690.4 407.0,691.6 414.6,691.3 C422.2,691.0 438.6,688.1 451.1,688.4 C463.6,688.7 481.5,691.5 489.8,692.9 C498.1,694.3 499.3,696.3 501.2,697.0"/>
<path class="car" d="M501.2,714.8 C501.6,713.0 505.4,707.6 508.0,705.0 C510.6,702.4 511.4,701.8 517.1,699.3 C522.8,696.8 531.9,692.3 542.1,690.2 C552.4,688.1 568.0,686.0 578.6,686.8 C589.2,687.5 604.4,691.9 605.9,694.7 C607.4,697.5 592.6,701.5 587.7,703.8 C582.8,706.1 583.9,706.7 576.3,708.4 C568.7,710.1 553.9,712.9 542.1,714.1 C530.3,715.3 512.5,715.6 505.7,715.7 C498.9,715.8 500.8,716.6 501.2,714.8Z" stroke-width="1.3"/>
<path class="car" d="M510.3,709.5 C506.5,708.2 514.1,704.1 519.4,701.6 C524.7,699.1 532.6,696.0 542.1,694.3 C551.6,692.6 567.2,691.1 576.3,691.3 C585.4,691.4 596.8,693.1 596.8,695.2 C596.8,697.3 585.4,701.4 576.3,703.8 C567.2,706.2 553.1,708.5 542.1,709.5 C531.1,710.5 514.1,710.8 510.3,709.5Z"/>
<ellipse class="car" cx="561.5" cy="697.0" rx="4.5" ry="8.5" transform="rotate(-10 561.5 697.0)"/>
<path class="car" d="M542.1,710.7 C541.7,708.8 538.8,702.7 539.9,699.3 C541.0,695.9 544.8,692.0 549.0,690.2 C553.2,688.4 560.7,687.8 564.9,688.4 C569.1,689.0 572.9,691.0 574.0,693.6 C575.1,696.2 573.6,701.3 571.7,703.8 C569.8,706.3 564.1,707.6 562.6,708.4"/>
<path class="car" d="M546.7,709.5 C546.4,708.0 544.0,703.2 544.9,700.4 C545.8,697.6 549.2,694.4 552.4,692.9 C555.5,691.4 561.9,691.7 563.8,691.5"/>
<path class="car" d="M517.1,699.7 C517.2,701.3 517.5,707.9 517.6,709.5"/>
<path class="car" d="M537.6,692.9 C537.4,695.8 536.7,707.3 536.5,710.2"/>
<path class="car" d="M397.9,747.7 Q397.6,746.2 399.1,746.2 L488.3,748.5 Q489.8,748.5 489.7,750.0 L488.7,765.2 Q488.6,766.7 487.1,766.6 L402.0,763.1 Q400.5,763.0 400.2,761.5Z"/>
<path class="car" d="M404.4,747.1 L406.7,761.2 L487.5,763.5"/>
<path class="car" d="M374.8,738.0 C376.7,738.5 383.2,738.8 386.2,740.7 C389.2,742.6 391.3,746.0 393.0,749.4 C394.7,752.8 395.8,759.2 396.4,761.2"/>
<path class="car" d="M375.5,747.1 C377.1,747.5 382.3,747.7 385.0,749.4 C387.7,751.1 390.8,756.0 391.9,757.3"/>
<path class="car" d="M374.1,753.9 C376.3,754.7 383.8,757.3 387.3,758.5 C390.8,759.7 394.0,760.8 395.3,761.2"/>
<path class="car" d="M493.2,759.9 C494.1,757.4 496.8,753.0 498.9,750.5 C501.0,748.0 500.0,746.2 505.7,744.8 C511.4,743.4 523.1,742.7 533.0,742.1 C542.9,741.5 559.0,740.4 564.9,741.2 C570.8,742.0 568.1,744.4 568.3,747.1 C568.5,749.8 567.1,754.6 566.1,757.3 C565.1,760.0 568.5,762.0 562.2,763.5 C555.9,765.0 540.0,766.1 528.5,766.5 C517.0,766.9 499.1,766.9 493.2,765.8 C487.3,764.7 492.2,762.4 493.2,759.9Z"/>
<path class="car" d="M496.6,757.3 C498.9,756.0 503.5,751.1 510.3,749.4 C517.1,747.7 528.7,747.9 537.6,747.1 C546.5,746.3 559.4,745.2 563.8,744.8"/>
<path class="car" d="M508.0,753.9 C512.2,753.6 523.9,752.7 533.0,752.1 C542.1,751.5 557.7,750.8 562.6,750.5"/>
<path class="car" d="M501.2,758.5 C506.5,758.8 522.6,760.5 533.0,760.3 C543.4,760.1 558.7,757.8 563.8,757.3"/>
<path class="car" d="M576.3,713.0 C575.7,716.0 574.2,725.1 572.9,731.2 C571.6,737.3 569.6,744.0 568.3,749.4 C567.0,754.8 565.5,761.1 564.9,763.5"/>
<path class="car" d="M569.5,752.8 C573.7,753.1 590.3,754.1 594.5,754.4"/>
<path class="car" d="M386.9,771.0 L388.5,778.5 L434.0,779.4 L433.3,772.1"/>
<path class="car" d="M545.6,776.7 L546.2,784.7 L590.0,785.8 L589.5,778.5"/>
<path class="car" d="M394.2,779.4 C396.1,781.6 399.8,789.5 405.5,792.6 C411.2,795.8 420.7,798.1 428.3,798.3 C435.9,798.5 444.7,797.7 451.1,793.8 C457.6,789.9 464.4,778.0 467.0,774.9"/>
<path class="car" d="M416.9,780.1 C418.8,782.4 423.4,791.1 428.3,793.8 C433.2,796.5 443.5,795.7 446.5,796.1"/>
<path class="car" d="M428.3,780.1 C429.8,781.4 432.8,787.5 437.4,788.1 C441.9,788.7 451.8,785.7 455.6,783.5 C459.4,781.3 459.4,776.3 460.2,774.9"/>
<path class="car" d="M590.0,610.5 C595.7,609.9 612.8,607.9 624.2,607.1 C635.6,606.3 645.8,605.5 658.3,605.5 C670.8,605.5 686.0,605.9 699.3,607.1 C712.6,608.3 725.9,609.2 738.0,612.8 C750.1,616.4 760.7,621.9 772.1,628.7 C783.5,635.5 796.8,647.0 806.3,653.8 C815.8,660.6 823.8,665.2 829.1,669.7 C834.4,674.2 836.1,676.2 838.2,681.1 C840.3,686.0 840.8,691.7 841.6,699.3 C842.4,706.9 843.6,720.3 843.2,726.6 C842.8,732.9 839.9,735.2 839.3,736.9"/>
<path class="car" d="M590.0,612.8 C597.6,612.3 619.2,609.7 635.5,610.0 C651.8,610.3 679.2,613.8 687.9,614.6"/>
<path class="car" d="M701.6,608.7 C707.7,609.8 726.2,611.6 738.0,615.5 C749.8,619.4 761.9,625.9 772.1,632.1 C782.4,638.3 791.1,646.7 799.5,652.6 C807.9,658.5 818.4,664.9 822.2,667.4"/>
<path class="car" d="M687.9,615.0 C686.0,618.8 680.7,631.0 676.5,637.8 C672.3,644.6 669.7,652.7 662.9,656.0 C656.1,659.3 647.6,657.4 635.5,657.4 C623.4,657.4 597.6,656.2 590.0,656.0"/>
<path class="car" d="M685.2,617.8 C683.2,621.3 677.2,633.0 673.1,639.0 C669.0,645.0 674.5,651.4 660.6,653.8 C646.8,656.2 601.8,653.4 590.0,653.3"/>
<path class="car" d="M599.1,613.9 C599.9,615.0 601.1,620.3 603.7,620.7 C606.4,621.1 613.1,617.0 615.0,616.2"/>
<path class="car" d="M691.3,615.0 C689.6,619.6 683.8,634.4 681.1,642.4 C678.5,650.4 676.4,659.8 675.4,663.3"/>
<path class="car" d="M687.9,657.2 C688.3,654.7 687.6,649.1 690.2,642.4 C692.9,635.7 697.3,621.1 703.8,616.9 C710.2,612.7 722.8,610.2 728.9,617.3 C735.0,624.4 738.4,652.4 740.3,659.4"/>
<path class="car" d="M732.3,616.9 C734.8,624.1 744.6,652.9 747.1,660.1"/>
<path class="car" d="M681.1,658.8 C682.3,657.1 685.2,654.0 687.9,651.5 C690.5,649.0 692.5,645.3 697.0,644.0 C701.5,642.7 710.7,642.5 715.2,643.5 C719.7,644.5 722.3,648.0 723.9,650.3 C725.5,652.6 725.1,655.3 724.8,657.2 C724.5,659.1 723.5,660.6 722.1,661.7 C720.7,662.8 722.9,663.4 716.4,663.8 C709.9,664.2 689.4,664.6 683.4,664.2 C677.4,663.9 681.0,662.6 680.6,661.7 C680.2,660.8 679.9,660.5 681.1,658.8Z"/>
<path class="car" d="M687.9,658.3 C694.0,658.0 718.2,656.8 724.3,656.5"/>
<path class="car" d="M701.1,658.3 C701.2,659.2 701.5,662.9 701.6,663.8"/>
<path class="car" d="M710.7,656.0 C711.3,655.4 712.2,653.3 714.1,652.6 C716.0,651.9 720.8,652.0 722.1,651.9"/>
<path class="car" d="M735.7,618.5 C738.7,619.5 748.2,621.9 753.9,624.2 C759.6,626.5 766.4,628.5 769.9,632.1 C773.4,635.7 773.3,641.2 774.9,645.8 C776.5,650.3 784.0,656.9 779.4,659.4 C774.8,661.9 752.5,660.4 747.1,660.6"/>
<path class="car" d="M772.1,634.4 C773.6,638.6 779.8,655.2 781.3,659.4"/>
<path class="car" d="M774.9,635.5 C778.2,637.8 790.9,645.0 794.9,649.2 C798.9,653.4 800.7,658.9 798.6,660.6 C796.5,662.4 785.1,659.9 782.4,659.7"/>
<path class="car" d="M675.4,664.2 C683.9,663.9 704.8,662.6 726.6,662.4 C748.4,662.2 788.8,661.8 806.3,662.9 C823.8,664.0 827.1,668.2 831.3,669.2"/>
<path class="car" d="M675.4,667.0 C683.9,666.7 705.2,665.3 726.6,665.1 C748.0,664.9 791.1,665.5 804.0,665.6"/>
<path class="car" d="M676.5,666.3 C677.3,669.5 680.1,679.4 681.1,685.6 C682.1,691.9 682.1,695.1 682.2,703.8 C682.3,712.5 682.2,727.8 681.5,738.0 C680.8,748.2 678.3,760.8 677.7,765.3"/>
<path class="car" d="M752.8,664.0 C753.5,666.9 756.3,675.2 757.3,681.1 C758.2,687.0 758.7,689.8 758.5,699.3 C758.3,708.8 757.3,728.0 756.2,738.0 C755.1,748.0 752.5,756.0 751.7,759.6"/>
<path class="car" d="M804.0,663.3 C804.6,667.0 807.4,677.7 807.4,685.6 C807.4,693.5 805.9,703.1 804.0,710.7 C802.1,718.3 798.4,726.3 796.1,731.2 C793.8,736.1 791.4,738.8 790.4,740.3"/>
<path d="M735.7,678.3 C735.6,677.8 734.5,676.0 735.3,675.2 C736.1,674.5 738.3,673.9 740.3,673.8 C742.3,673.7 745.5,674.2 747.1,674.7 C748.7,675.2 749.8,676.2 750.1,677.0 C750.4,677.8 749.1,678.9 748.9,679.3" fill="none" stroke="#2e2e2e" stroke-width="2.4" stroke-linecap="round" stroke-linejoin="round"/>
<path d="M736.2,678.8 C737.3,678.6 740.5,677.3 742.6,677.4 C744.7,677.5 747.9,679.0 748.9,679.3" fill="none" stroke="#555" stroke-width="1.2"/>
<path class="car" d="M738.0,672.4 C738.6,672.0 740.3,670.1 741.4,670.1 C742.5,670.1 744.2,672.0 744.8,672.4"/>
<path class="car" d="M738.0,680.6 C738.6,680.8 740.1,681.9 741.4,682.0 C742.7,682.1 745.2,681.2 746.0,681.1"/>
<path class="car" d="M789.2,678.3 C789.1,677.8 787.7,676.0 788.5,675.2 C789.3,674.5 791.9,673.8 793.8,673.8 C795.7,673.8 798.6,674.6 799.9,675.2 C801.2,675.8 801.8,676.7 801.7,677.4 C801.6,678.1 799.9,679.0 799.5,679.3"/>
<path class="car" d="M789.9,678.8 C790.7,678.6 793.2,677.8 794.9,677.9 C796.6,678.0 799.1,679.1 799.9,679.3"/>
<path class="car" d="M792.6,680.6 C793.2,681.0 795.0,682.9 796.1,682.9 C797.2,682.9 798.5,681.0 799.0,680.6"/>
<path class="car" d="M668.6,703.8 C673.7,703.7 689.4,703.4 699.3,703.2 C709.2,703.0 723.0,702.6 727.8,702.5"/>
<path class="car" d="M738.0,701.8 C743.7,701.5 761.7,700.6 772.1,700.2 C782.5,699.8 795.9,699.4 800.6,699.3"/>
<path class="car" d="M668.6,706.1 C670.1,703.4 679.2,703.1 681.1,706.1 C683.0,709.1 680.5,718.6 679.9,724.3 C679.3,730.0 678.7,737.8 677.7,740.3 C676.7,742.8 674.7,742.1 673.8,739.1 C672.9,736.1 673.3,727.6 672.4,722.1 C671.5,716.6 667.1,708.8 668.6,706.1Z"/>
<path class="car" d="M672.0,708.4 C673.0,708.4 677.0,703.8 677.7,708.4 C678.4,713.0 676.4,731.2 676.1,735.7"/>
<path class="car" d="M668.6,754.4 C669.7,753.6 668.8,750.6 675.4,749.4 C682.0,748.2 696.1,747.8 708.4,747.1 C720.7,746.4 736.9,745.7 749.4,745.3 C761.9,744.9 777.8,744.9 783.5,744.8"/>
<path class="car" d="M667.4,757.3 C674.2,756.5 694.7,754.1 708.4,752.8 C722.1,751.5 736.9,750.3 749.4,749.4 C761.9,748.5 779.7,746.4 783.5,747.1 C787.3,747.9 777.8,752.0 772.1,753.9 C766.4,755.8 757.0,757.4 749.4,758.5 C741.8,759.6 730.4,760.0 726.6,760.3"/>
<path class="car" d="M665.1,765.3 C671.5,764.5 696.6,761.6 703.8,760.8 C711.0,760.0 707.6,760.4 708.4,760.3"/>
<path class="car" d="M722.1,759.6 C726.6,759.4 740.3,758.9 749.4,758.5 C758.5,758.1 770.2,758.8 776.7,757.3 C783.2,755.8 785.1,752.6 788.1,749.4 C791.1,746.2 793.8,739.9 794.9,738.0"/>
<path class="car" d="M658.3,780.3 C662.1,779.9 673.5,778.5 681.1,777.8 C688.7,777.0 700.0,776.1 703.8,775.8"/>
<path class="car" d="M722.1,774.0 C728.5,773.5 749.7,771.9 760.8,771.2 C771.9,770.5 783.2,772.0 788.5,769.9 C793.8,767.8 791.0,763.4 792.6,758.5 C794.2,753.6 797.3,743.3 798.3,740.3"/>
<path class="car" d="M831.3,697.0 C832.4,696.8 836.5,695.5 838.2,695.9 C839.9,696.3 841.0,698.7 841.6,699.3"/>
<path class="car" d="M835.9,681.1 C836.1,682.6 836.4,688.3 837.0,690.2 C837.6,692.1 838.9,692.1 839.3,692.5"/>
<path class="car" d="M834.8,735.7 C835.8,735.3 839.1,734.9 840.5,733.4 C841.9,731.9 842.8,727.7 843.2,726.6"/>
<path class="car" d="M834.8,753.9 C835.8,752.8 839.2,750.1 840.5,747.1 C841.8,744.1 842.3,737.6 842.7,735.7"/>
<path class="car" d="M587.7,779.0 C589.2,777.9 594.7,777.0 596.8,772.1 C598.9,767.2 598.3,757.0 600.2,749.4 C602.1,741.8 604.2,735.0 608.2,726.6 C612.2,718.2 618.9,705.4 624.2,699.3 C629.5,693.2 634.8,690.2 640.1,690.2 C645.4,690.2 651.6,693.2 656.0,699.3 C660.4,705.4 664.2,717.5 666.3,726.6 C668.4,735.7 668.2,749.4 668.6,753.9"/>
<path class="car" d="M590.0,772.1 C590.8,769.1 592.3,761.1 594.6,753.9 C596.9,746.7 599.9,736.9 603.7,728.9 C607.5,720.9 613.5,711.5 617.3,706.1 C621.1,700.7 624.9,698.2 626.4,696.6"/>
<path class="car" d="M590.0,759.6 C591.1,759.2 595.7,757.7 596.8,757.3"/>
<path class="car" d="M590.0,754.4 C591.3,754.1 596.7,753.1 598.0,752.8"/>
<ellipse class="car" cx="635.5" cy="750.5" rx="25.5" ry="55.8" transform="rotate(-2 635.5 750.5)"/>
<ellipse class="car" cx="635.1" cy="751.7" rx="18.7" ry="40.5" transform="rotate(-2 635.1 751.7)"/>
<ellipse class="car" cx="634.6" cy="752.1" rx="16.4" ry="36.4" transform="rotate(-2 634.6 752.1)"/>
<ellipse class="car" cx="630.3" cy="752.8" rx="2.3" ry="4.8" transform="rotate(0 630.3 752.8)"/>
<path class="car" d="M624.2,696.6 C621.9,700.1 613.9,708.7 610.5,717.5 C607.1,726.3 604.3,738.8 603.7,749.4 C603.1,760.0 604.8,772.6 607.1,781.3 C609.4,790.0 613.7,797.5 617.3,801.7 C620.9,806.0 626.8,805.9 628.7,806.8"/>
<path class="car" d="M617.3,701.6 C614.3,705.8 603.6,717.9 599.1,726.6 C594.6,735.3 591.5,749.4 590.0,753.9"/>
<path class="car" d="M590.0,800.6 C592.3,801.4 597.2,804.2 603.7,805.2 C610.2,806.2 624.5,806.5 628.7,806.8"/>
<path class="car" d="M790.4,767.6 C791.0,764.6 792.7,754.3 793.8,749.4 C794.9,744.5 794.7,744.5 797.2,738.0 C799.7,731.5 804.4,716.8 808.6,710.7 C812.8,704.6 818.0,701.2 822.2,701.6 C826.4,702.0 831.1,707.3 833.6,713.0 C836.1,718.7 836.4,731.9 837.0,735.7"/>
<ellipse class="car" cx="815.4" cy="748.9" rx="17.8" ry="43.7" transform="rotate(-2 815.4 748.9)"/>
<ellipse class="car" cx="816.5" cy="748.2" rx="10.9" ry="30.7" transform="rotate(-2 816.5 748.2)"/>
<ellipse class="car" cx="816.8" cy="748.2" rx="9.1" ry="27.3" transform="rotate(-2 816.8 748.2)"/>
<ellipse class="car" cx="813.1" cy="748.7" rx="1.8" ry="3.9" transform="rotate(0 813.1 748.7)"/>
<path class="car" d="M777.2,771.0 C778.2,773.1 780.5,780.2 783.5,783.5 C786.5,786.8 789.8,789.3 794.9,790.8 C800.0,792.3 811.1,792.3 814.3,792.6"/>
<path class="car" d="M804.0,717.5 C803.0,720.5 799.0,728.1 798.3,735.7 C797.5,743.3 798.2,755.0 799.5,763.0 C800.8,771.0 803.8,778.6 806.3,783.5 C808.8,788.4 813.0,791.1 814.3,792.6"/>
<path class="car" d="M777.2,771.0 C779.0,770.8 786.3,770.1 788.1,769.9"/>
</g>
<!-- door handle -->
<g id="handle">
<path class="ln" d="M159.7,1013.4 C160.3,1010.7 161.2,1002.3 163.1,997.4 C165.0,992.5 167.1,988.9 171.1,983.8 C175.1,978.7 181.3,971.6 187.0,966.7 C192.7,961.8 197.6,957.8 205.2,954.2 C212.8,950.6 223.1,947.5 232.6,945.0 C242.1,942.5 253.4,940.6 262.1,939.4 C270.8,938.1 277.3,937.9 284.9,937.5 C292.5,937.1 301.4,936.8 307.7,937.1 C314.0,937.4 316.5,937.3 322.8,939.4 C329.1,941.5 338.7,945.2 345.5,949.6 C352.3,954.0 359.2,961.1 363.8,965.5 C368.4,969.9 371.4,974.1 372.9,975.8"/>
<path class="ln" d="M166.5,1097.6 C167.1,1099.5 168.4,1105.6 169.9,1109.0 C171.4,1112.4 172.4,1114.8 175.6,1118.1 C178.8,1121.4 184.4,1126.0 189.3,1129.0 C194.2,1132.0 196.8,1134.1 205.2,1136.3 C213.5,1138.5 229.9,1141.2 239.4,1142.0 C248.9,1142.8 254.5,1141.9 262.1,1140.9 C269.7,1140.0 276.3,1138.4 284.9,1136.3 C293.5,1134.2 305.5,1130.9 313.7,1128.3 C321.9,1125.7 326.6,1125.1 334.2,1120.4 C341.8,1115.7 353.1,1106.7 359.2,1099.9 C365.3,1093.1 368.2,1084.7 370.6,1079.4 C373.0,1074.1 372.9,1069.9 373.3,1068.0"/>
<path d="M97.1,1056.6 C97.4,1054.7 97.8,1048.6 98.7,1045.2 C99.7,1041.8 99.8,1038.8 102.8,1036.1 C105.8,1033.4 110.7,1031.4 116.4,1029.3 C122.1,1027.2 130.1,1025.5 136.9,1023.6 C143.7,1021.7 152.5,1019.4 157.4,1017.9 C162.3,1016.4 163.5,1014.5 166.5,1014.5 C169.5,1014.5 171.0,1016.9 175.6,1017.9 C180.2,1018.9 183.2,1020.4 193.8,1020.2 C204.4,1020.0 224.2,1018.9 239.4,1016.8 C254.6,1014.7 271.0,1010.7 284.9,1007.7 C298.8,1004.7 313.4,1001.1 322.8,998.6 C332.2,996.1 337.2,995.0 341.0,992.9 C344.8,990.8 343.2,988.1 345.5,986.0 C347.8,983.9 348.3,982.0 354.6,980.3 C360.9,978.6 373.2,977.2 383.1,975.8 C393.0,974.4 404.1,972.8 413.8,971.9 C423.5,971.0 436.6,970.7 441.2,970.5 L413.8,1059.3 C411.5,1059.6 407.8,1059.9 400.2,1061.2 C392.6,1062.5 385.0,1063.9 368.3,1066.9 C351.6,1069.9 321.5,1075.8 300.0,1079.4 C278.5,1083.0 261.6,1085.7 239.4,1088.5 C217.2,1091.3 187.0,1095.0 166.5,1096.5 C146.0,1098.0 127.0,1098.5 116.4,1097.6 C105.8,1096.6 105.8,1093.8 102.8,1090.8 C99.8,1087.8 99.2,1083.6 98.2,1079.4 C97.2,1075.2 97.3,1068.0 97.1,1065.7 Z" fill="#fff" stroke="none"/>
<path class="ln" d="M97.1,1056.6 C97.4,1054.7 97.8,1048.6 98.7,1045.2 C99.7,1041.8 99.8,1038.8 102.8,1036.1 C105.8,1033.4 110.7,1031.4 116.4,1029.3 C122.1,1027.2 130.1,1025.5 136.9,1023.6 C143.7,1021.7 152.5,1019.4 157.4,1017.9 C162.3,1016.4 163.5,1014.5 166.5,1014.5 C169.5,1014.5 171.0,1016.9 175.6,1017.9 C180.2,1018.9 183.2,1020.4 193.8,1020.2 C204.4,1020.0 224.2,1018.9 239.4,1016.8 C254.6,1014.7 271.0,1010.7 284.9,1007.7 C298.8,1004.7 313.4,1001.1 322.8,998.6 C332.2,996.1 337.2,995.0 341.0,992.9 C344.8,990.8 343.2,988.1 345.5,986.0 C347.8,983.9 348.3,982.0 354.6,980.3 C360.9,978.6 373.2,977.2 383.1,975.8 C393.0,974.4 404.1,972.8 413.8,971.9 C423.5,971.0 436.6,970.7 441.2,970.5" stroke-width="1.5"/>
<path class="ln" d="M413.8,1059.3 C411.5,1059.6 407.8,1059.9 400.2,1061.2 C392.6,1062.5 385.0,1063.9 368.3,1066.9 C351.6,1069.9 321.5,1075.8 300.0,1079.4 C278.5,1083.0 261.6,1085.7 239.4,1088.5 C217.2,1091.3 187.0,1095.0 166.5,1096.5 C146.0,1098.0 127.0,1098.5 116.4,1097.6 C105.8,1096.6 105.8,1093.8 102.8,1090.8 C99.8,1087.8 99.2,1083.6 98.2,1079.4 C97.2,1075.2 97.3,1069.5 97.1,1065.7 C96.9,1061.9 97.1,1058.1 97.1,1056.6" stroke-width="1.6" stroke="#a0a0a0"/>
<path class="ln" d="M105.5,1056.6 C105.7,1055.1 106.0,1050.3 106.9,1047.5 C107.8,1044.7 108.4,1041.8 110.7,1039.5 C113.0,1037.2 113.2,1036.5 121.0,1033.8 C128.8,1031.1 149.6,1026.2 157.4,1023.6 C165.2,1021.0 166.0,1019.3 167.7,1018.4"/>
<path class="ln" d="M105.5,1056.6 C105.5,1059.6 104.8,1069.5 105.5,1074.8 C106.2,1080.1 107.2,1085.5 109.6,1088.5 C112.0,1091.5 110.3,1092.3 119.8,1093.0 C129.3,1093.7 157.2,1092.2 166.5,1092.4 C175.8,1092.6 174.1,1093.9 175.6,1094.2"/>
<path class="ln" d="M107.3,1052.1 C117.9,1050.8 145.3,1047.9 171.1,1044.1 C196.9,1040.3 231.1,1033.8 262.1,1029.3 C293.1,1024.8 332.8,1020.4 356.9,1016.8 C381.0,1013.2 398.6,1009.2 407.0,1007.7"/>
<path class="ln" d="M109.6,1083.9 C123.6,1083.3 168.4,1082.0 193.8,1080.5 C219.2,1079.0 234.9,1078.0 262.1,1074.8 C289.3,1071.6 332.4,1065.2 356.9,1061.6 C381.4,1058.0 400.6,1054.6 409.3,1053.2"/>
<path class="ln" d="M344.4,991.7 C346.9,990.6 352.8,986.9 359.2,984.9 C365.6,982.9 379.1,980.6 383.1,979.7"/>
<path d="M382.9,980.7 C392,983 401,985.5 406.5,989.4 C411,993 413.2,996 414,1001 C415.3,1008 415.3,1020 415.3,1044 L414.4,1058.3 C420,1057.6 426,1056 431.1,1054.6 C440,1052.5 447,1050.5 452.1,1048.4 C458,1046 463,1043.5 466.1,1040.6 C470,1036 472.5,1031 474,1026.5 C475.5,1021 475.9,1017 475.7,1012.5 C475.7,1006 475,1000 474,995 C473,990 471,986 468.7,982.8 C466.5,980 464,978 460.8,976.6 C457,975.2 453,974.6 448.6,974.4 C441,974.2 434,974.4 427.6,974.9 C420,975.5 413,976.2 406.5,977.2 C398,978.4 390,979.6 382.9,980.7 Z" fill="url(#gCap7)" stroke="#585858" stroke-width="1"/>
<clipPath id="clipCap"><path d="M382.9,980.7 C392,983 401,985.5 406.5,989.4 C411,993 413.2,996 414,1001 C415.3,1008 415.3,1020 415.3,1044 L414.4,1058.3 C420,1057.6 426,1056 431.1,1054.6 C440,1052.5 447,1050.5 452.1,1048.4 C458,1046 463,1043.5 466.1,1040.6 C470,1036 472.5,1031 474,1026.5 C475.5,1021 475.9,1017 475.7,1012.5 C475.7,1006 475,1000 474,995 C473,990 471,986 468.7,982.8 C466.5,980 464,978 460.8,976.6 C457,975.2 453,974.6 448.6,974.4 C441,974.2 434,974.4 427.6,974.9 C420,975.5 413,976.2 406.5,977.2 C398,978.4 390,979.6 382.9,980.7 Z"/></clipPath>
<g clip-path="url(#clipCap)">
<path d="M409,992 C414,998 415.5,1008 415.3,1022 L414.4,1060" fill="none" stroke="url(#gCapL)" stroke-width="24"/>
<path d="M414,1059.5 C432,1056 452,1050 466.5,1041.5" fill="none" stroke="#a6a6a6" stroke-width="4.5"/>
<path d="M470,986 C478,1000 478,1022 467,1040" fill="none" stroke="#545454" stroke-width="5" opacity="0.55"/>
</g>
<g transform="translate(436.8 1021.3) rotate(-6)" fill="#e2e2e2"><path d="M0,-4.8 L3.5,-4.8 L6,-2 L6,2 L3.5,4.8 L0,4.8Z"/><rect x="5.5" y="-1.7" width="10.5" height="3.4"/></g>
<rect x="378.6" y="1012" width="28.6" height="35.8" rx="8" fill="#6a6a6a" stroke="#444" stroke-width="1.2"/>
<rect x="384" y="1019" width="19" height="24" rx="4.5" fill="#a2a2a2"/>
<rect x="385" y="1020" width="17" height="11" rx="4" fill="#8e8e8e"/>
</g>
<!-- emergency key procedure 9-11 -->
<g id="keys">
<path class="ln" d="M549.4,943.9 L579.0,946.2 L581.2,965.5 L584.6,945.0" stroke="#9c9c9c" stroke-width="1.3"/>
<path class="ln" d="M584.6,945.0 C589.9,945.5 606.6,946.6 616.5,947.8 C626.4,948.9 633.9,950.1 643.8,951.9 C653.7,953.6 666.2,956.2 675.7,958.3 C685.2,960.4 691.7,961.7 700.8,964.4 C709.9,967.1 725.5,972.9 730.4,974.6" stroke="#9c9c9c" stroke-width="1.3"/>
<path class="ln" d="M579.0,946.2 L576.7,1043.0" stroke="#9c9c9c" stroke-width="1.3"/>
<path class="ln" d="M584.2,966.7 L582.4,1043.0" stroke="#9c9c9c" stroke-width="1.3"/>
<path class="ln" d="M592.6,986.0 C603.0,986.5 634.1,988.4 655.2,988.8 C676.3,989.2 708.4,988.4 719.0,988.3"/>
<path class="ln" d="M592.6,1003.1 C603.4,1003.4 635.5,1004.7 657.5,1004.7 C679.5,1004.7 713.5,1003.4 724.7,1003.1"/>
<path class="ln" d="M557.3,1045.2 C558.8,1044.8 557.8,1043.4 566.4,1043.0 C575.0,1042.6 601.6,1043.0 608.6,1043.0" stroke="#9c9c9c" stroke-width="1.3"/>
<path class="ln" d="M558.5,1050.9 C559.8,1050.6 558.0,1049.2 566.4,1048.9 C574.8,1048.6 601.6,1048.9 608.6,1048.9" stroke="#9c9c9c" stroke-width="1.3"/>
<path class="ln" d="M627.9,1043.4 C631.3,1043.3 645.0,1043.1 648.4,1043.0" stroke="#9c9c9c" stroke-width="1.3"/>
<path class="ln" d="M630.2,1048.9 C633.2,1048.9 645.4,1048.9 648.4,1048.9" stroke="#9c9c9c" stroke-width="1.3"/>
<path class="ln" d="M678.0,1043.0 C682.2,1042.7 694.3,1042.0 703.0,1041.4 C711.7,1040.8 725.8,1039.8 730.4,1039.5" stroke="#9c9c9c" stroke-width="1.3"/>
<path class="ln" d="M675.7,1048.9 C680.2,1048.6 693.9,1047.7 703.0,1047.0 C712.1,1046.3 725.8,1045.2 730.4,1044.8" stroke="#9c9c9c" stroke-width="1.3"/>
<path d="M609.3,1031.4 Q609.2,1030.4 610.2,1030.4 L625.8,1030.4 Q626.8,1030.4 626.9,1031.4 L628.2,1053.6 Q628.4,1056.6 628.9,1059.6 L632.7,1084.9 Q633.6,1090.8 637.0,1092.5 L637.0,1092.5 Q640.4,1094.2 639.8,1098.8 L639.8,1098.8 Q639.3,1103.3 634.9,1110.0 L633.4,1112.1 Q627.9,1120.4 624.5,1122.2 L624.5,1122.2 Q621.1,1124.0 613.1,1123.6 L606.0,1123.2 Q596.0,1122.6 590.3,1119.2 L590.3,1119.2 Q584.6,1115.8 577.8,1108.0 L575.0,1104.8 Q571.0,1100.3 571.6,1097.2 L571.6,1097.2 Q572.3,1094.2 575.6,1092.5 L575.6,1092.5 Q579.0,1090.8 583.0,1091.2 L609.7,1093.9 Q614.7,1094.4 614.4,1089.4 L612.6,1064.2 Q612.4,1061.2 612.1,1058.2Z" fill="url(#gKeyL)" stroke="#5a5a5a" stroke-width="1.2" stroke-linejoin="round"/>
<path d="M594.9,1109.5 Q592.6,1107.6 595.6,1107.5 L622.6,1106.8 Q625.6,1106.7 624.0,1109.3 L622.7,1111.4 Q621.1,1114.0 618.1,1114.0 L603.6,1114.0 Q600.6,1114.0 598.3,1112.1Z" fill="#777" stroke="#555" stroke-width="0.8"/>
<path d="M599.6,1112.2 Q598.3,1110.8 600.3,1110.7 L621.4,1110.2 Q623.4,1110.1 622.1,1111.6 L621.9,1112.0 Q620.6,1113.5 618.6,1113.5 L603.0,1113.5 Q601.0,1113.5 599.6,1112.2Z" fill="#dcdcdc"/>
<path d="M620.6,1031.1 L621.1,1038.4 L623.8,1040.2 L624.3,1054.3 L628.1,1056.6 L626.8,1030.7Z" fill="#858585"/>
<path class="ln" d="M620.6,1031.1 L621.1,1038.4 L623.8,1040.2 L624.3,1054.3 L627.9,1056.6" stroke="#6e6e6e" stroke-width="1"/>
<path d="M617.7,1061.2 C618.1,1065.0 618.6,1078.2 619.9,1083.9 C621.2,1089.6 623.9,1092.3 625.6,1095.3 C627.3,1098.3 629.4,1101.0 630.2,1102.1" fill="none" stroke="#f4f4f4" stroke-width="2.2" stroke-linecap="round"/>
<g class="blk">
<path d="M663.2,1012.2 L645.0,1027.0 L654.1,1027.0 L654.8,1041.8 L674.8,1041.8 L674.8,1027.0 L680.7,1027.0Z"/>
<path d="M654.8,1045.7 L674.4,1045.7 L673.0,1054.8 L653.9,1054.8Z"/>
<path d="M653.4,1058.0 L672.1,1058.0 L670.0,1061.6 L651.1,1061.6Z"/>
<path d="M648.4,1063.0 L666.6,1063.0 L665.7,1064.8 L646.1,1064.8Z"/>
<path d="M668.9,1082.1 L651.4,1096.9 L662.5,1096.5 L663.0,1106.2 L680.7,1106.2 L680.7,1095.8 L687.6,1095.8Z"/>
<path d="M663.0,1109.4 L680.7,1109.4 L681.0,1117.6 L663.4,1117.6Z"/>
<path d="M663.4,1120.8 L681.0,1120.8 L681.2,1126.3 L663.7,1126.3Z"/>
<path d="M663.9,1129.5 L681.2,1129.5 L681.4,1133.1 L664.1,1133.1Z"/>
</g>
<path class="ln" d="M777.6,889.0 L803.8,889.6 L806.5,908.3" stroke="#9c9c9c" stroke-width="1.3"/>
<path class="ln" d="M783.3,989.1 C784.8,988.8 788.2,987.7 792.4,987.5 C796.6,987.3 805.6,987.9 808.3,988.0" stroke="#9c9c9c" stroke-width="1.3"/>
<path class="ln" d="M784.4,993.0 C788.4,992.9 799.8,992.2 808.3,992.1 C816.8,992.0 831.0,992.1 835.6,992.1" stroke="#9c9c9c" stroke-width="1.3"/>
<path class="ln" d="M876.6,992.1 C880.4,992.2 889.9,992.8 899.4,992.6 C908.9,992.5 924.4,991.8 933.5,991.2 C942.6,990.6 950.6,989.5 954.0,989.1" stroke="#9c9c9c" stroke-width="1.3"/>
<path class="ln" d="M867.5,988.0 C872.8,988.1 885.0,988.9 899.4,988.5 C913.8,988.1 944.9,986.2 954.0,985.7" stroke="#9c9c9c" stroke-width="1.3"/>
<path d="M809.6,894.0 Q810.6,890.1 814.6,890.4 L832.2,891.8 Q853.8,893.5 876.6,897.5 L876.6,897.5 Q899.4,901.5 916.5,905.4 L916.5,905.5 Q933.5,909.4 944.4,914.0 L952.4,917.4 Q955.2,918.6 955.2,921.6 L955.2,981.6 Q955.2,984.6 952.2,984.7 L915.9,985.8 Q876.6,986.9 840.8,986.9 L807.9,986.9 Q804.9,986.9 804.9,983.9 L805.7,928.3 Q806.0,908.3 808.3,899.2Z" fill="url(#gCap10)" stroke="#4e4e4e" stroke-width="1"/>
<path d="M811.0,891.0 L814.0,892.8 L810.1,976.6 L806.0,985.7 L806.9,908.3Z" fill="#b0b0b0" opacity="0.75"/>
<path d="M820.8,931.1 C830.1,931.3 856.3,931.8 876.6,932.2 C896.9,932.6 931.6,933.2 942.6,933.4" fill="none" stroke="#b8b8b8" stroke-width="1.4"/>
<path d="M819.7,948.2 C831.1,948.3 866.4,948.8 888.0,948.8 C909.6,948.8 939.2,948.3 949.5,948.2" fill="none" stroke="#b0b0b0" stroke-width="1.4"/>
<g transform="translate(842.9 908.3) rotate(3)" fill="#adadad"><rect x="0" y="-3.5" width="11" height="7" rx="1.5"/><rect x="10" y="-1.5" width="26" height="3.4"/></g>
<path d="M834.5,974.3 L852.7,974.3 L853.2,986.9 L834.5,986.9Z" fill="#3c3c3c"/>
<path d="M836.9,976.5 Q836.8,975.5 837.8,975.5 L846.0,975.5 Q847.0,975.5 847.5,976.4 L851.2,983.1 Q852.7,985.7 852.9,988.7 L853.4,997.9 Q853.8,1003.9 854.5,1009.9 L856.6,1029.8 Q857.3,1035.8 861.2,1038.7 L861.2,1038.7 Q865.2,1041.5 864.8,1047.8 L864.8,1047.8 Q864.3,1054.0 859.0,1060.8 L858.7,1061.4 Q853.8,1067.7 850.4,1070.0 L850.4,1070.0 Q847.0,1072.2 837.0,1071.8 L835.6,1071.8 Q824.2,1071.3 817.4,1067.2 L815.7,1066.2 Q810.6,1063.1 806.6,1058.6 L799.8,1050.8 Q795.8,1046.3 797.2,1043.3 L797.2,1043.3 Q798.7,1040.4 802.4,1039.7 L802.4,1039.7 Q806.0,1039.0 811.0,1039.3 L836.7,1041.1 Q839.7,1041.3 839.6,1038.3 L838.5,1002.4 Q838.4,999.4 838.2,996.4Z" fill="url(#gKeyL)" stroke="#5a5a5a" stroke-width="1.2" stroke-linejoin="round"/>
<path d="M819.7,1055.9 Q817.4,1054.0 820.4,1054.0 L848.6,1054.0 Q851.6,1054.0 849.9,1056.5 L847.6,1059.7 Q845.9,1062.2 842.9,1062.2 L830.7,1062.2 Q827.7,1062.2 825.4,1060.3Z" fill="#777" stroke="#555" stroke-width="0.8"/>
<path d="M825.3,1059.4 Q823.8,1058.1 825.8,1058.1 L846.8,1057.7 Q848.8,1057.7 847.5,1059.2 L846.5,1060.3 Q845.2,1061.8 843.2,1061.8 L830.3,1061.8 Q828.3,1061.8 826.8,1060.5Z" fill="#dcdcdc"/>
<path d="M842.5,1003.9 C842.9,1008.5 843.4,1024.8 844.7,1031.3 C846.0,1037.8 848.5,1039.6 850.4,1042.6 C852.3,1045.6 855.1,1048.3 856.1,1049.5" fill="none" stroke="#f4f4f4" stroke-width="2.2" stroke-linecap="round"/>
<g class="blk">
<path d="M916.5,865.0 L896.0,871.9 L902.1,876.0 L897.6,891.9 L914.9,894.2 L917.1,885.1 L922.6,888.3Z"/>
<path d="M896.6,895.6 L914.4,897.8 L913.5,901.9 L895.3,899.7Z"/>
<path d="M894.4,903.8 L913.0,905.6 L912.4,909.7 L893.0,907.6Z"/>
<path d="M892.1,911.5 L911.9,913.3 L911.2,918.8 L891.0,916.5Z"/>
</g>
<path class="blk" d="M797.2,1013.0 C797.4,1011.8 797.1,1008.2 798.1,1006.0 C799.1,1003.8 800.6,1001.6 803.3,999.8 C806.0,997.9 809.6,996.3 814.3,994.9 C819.0,993.5 824.5,992.3 831.5,991.6 C838.5,990.9 852.4,990.8 856.6,990.6 L856.6,1001.4 C853.0,1001.5 841.8,1001.4 835.2,1001.9 C828.6,1002.4 821.6,1003.3 816.8,1004.4 C812.0,1005.5 808.9,1007.0 806.4,1008.4 C803.9,1009.8 802.6,1012.2 801.8,1013.0 Z"/>
<path class="blk" d="M871.0,996.2 L855.8,984.3 L856.5,1005.1Z"/>
<rect class="blk" x="799.6" y="1011.7" width="4.9" height="9.8" transform="rotate(-14 802.1 1016.6)"/>
<rect class="blk" x="806.8" y="1014.5" width="5.1" height="10.5" transform="rotate(-8 809.4 1019.8)"/>
<rect class="blk" x="816.9" y="1016.8" width="5.1" height="11.0" transform="rotate(-4 819.5 1022.3)"/>
<rect class="blk" x="828.6" y="1018.4" width="5.1" height="11.3" transform="rotate(-2 831.2 1024.0)"/>
<path class="blk" d="M884.2,992.1 C885.8,993.0 891.6,995.6 894.0,997.8 C896.4,1000.0 898.1,1002.9 898.7,1005.4 C899.4,1007.9 899.3,1010.5 897.9,1013.0 C896.5,1015.5 894.0,1017.8 890.3,1020.1 C886.6,1022.4 878.0,1025.8 875.6,1026.9 L875.1,1017.6 C877.0,1017.0 883.9,1015.1 886.7,1013.7 C889.6,1012.3 891.6,1010.8 892.2,1009.3 C892.8,1007.8 891.6,1005.8 890.3,1004.4 C889.0,1003.0 885.2,1001.6 884.2,1001.1 Z"/>
<path class="blk" d="M873.2,996.2 L884.9,987.7 L887.1,1008.3Z"/>
<path class="ln" d="M771.6,1128.3 C778.4,1126.9 798.7,1123.1 812.5,1119.9 C826.3,1116.8 843.7,1112.2 854.6,1109.4 C865.5,1106.6 873.9,1104.1 877.7,1103.1" stroke="#b0b0b0" stroke-width="1.2"/>
<path class="ln" d="M772.6,1133.6 C775.0,1133.2 780.3,1132.9 787.3,1131.5 C794.3,1130.1 802.3,1128.2 814.6,1125.2 C826.9,1122.2 853.2,1115.5 860.9,1113.6" stroke="#b0b0b0" stroke-width="1.2"/>
<path class="ln" d="M787.3,1131.5 C790.8,1132.9 802.3,1136.4 808.3,1139.9 C814.3,1143.4 818.9,1146.2 823.1,1152.5 C827.3,1158.8 830.8,1168.6 833.6,1177.7 C836.4,1186.8 838.7,1198.7 839.9,1207.1 C841.1,1215.5 843.0,1222.0 840.9,1228.1 C838.8,1234.2 829.6,1241.3 827.3,1243.9" stroke="#b0b0b0" stroke-width="1.2"/>
<path class="ln" d="M805.2,1132.5 C809.2,1134.8 819.4,1144.8 829.4,1146.2 C839.4,1147.6 854.2,1143.0 865.1,1140.9 C876.0,1138.8 889.6,1134.8 894.5,1133.6" stroke="#b0b0b0" stroke-width="1.2"/>
<path class="ln" d="M823.1,1152.5 C830.1,1151.3 852.9,1147.5 865.1,1145.1 C877.4,1142.6 891.4,1139.0 896.6,1137.8" stroke="#b0b0b0" stroke-width="1.2"/>
<path class="ln" d="M830.4,1129.4 L829.4,1143.0 L844.1,1140.9Z" stroke="#b0b0b0" stroke-width="1.2"/>
<path class="ln" d="M848.3,1137.8 L858.8,1135.2 L865.1,1144.1 L855.6,1147.2Z" stroke="#b0b0b0" stroke-width="1.2"/>
<path class="ln" d="M852.5,1138.8 L858.4,1137.3 L861.9,1143.6" stroke="#b0b0b0" stroke-width="1.2"/>
<path class="ln" d="M894.5,1110.4 C897.3,1109.9 906.0,1106.2 911.3,1107.3 C916.5,1108.3 922.5,1113.0 926.0,1116.7 C929.5,1120.4 931.2,1127.3 932.3,1129.4" stroke="#b0b0b0" stroke-width="1.2"/>
<path class="ln" d="M896.6,1113.6 C899.0,1113.2 906.9,1110.5 911.3,1111.5 C915.7,1112.5 921.0,1118.5 922.9,1119.9" stroke="#b0b0b0" stroke-width="1.2"/>
<path class="ln" d="M840.9,1228.1 C847.0,1225.8 866.7,1219.4 877.7,1214.5 C888.7,1209.6 899.1,1203.8 907.1,1198.7 C915.1,1193.6 921.5,1188.9 926.0,1184.0 C930.5,1179.1 933.0,1171.8 934.4,1169.3" stroke="#b0b0b0" stroke-width="1.2"/>
<path class="ln" d="M827.3,1243.9 C834.3,1241.3 856.0,1234.0 869.3,1228.1 C882.6,1222.1 897.3,1214.5 907.1,1208.2 C916.9,1201.9 923.4,1195.4 928.1,1190.3 C932.8,1185.2 934.3,1179.8 935.5,1177.7" stroke="#b0b0b0" stroke-width="1.2"/>
<path class="ln" d="M843.0,1219.7 C848.8,1217.4 867.4,1211.0 877.7,1206.1 C888.0,1201.2 900.5,1192.9 905.0,1190.3" stroke="#b0b0b0" stroke-width="1.2"/>
<path class="ln" d="M844.1,1221.8 C844.8,1220.9 845.5,1217.8 848.3,1216.6 C851.1,1215.4 857.8,1216.4 860.9,1214.5 C864.0,1212.6 864.9,1207.5 867.2,1205.0 C869.5,1202.5 872.9,1199.8 874.5,1199.8 C876.1,1199.8 877.5,1202.4 876.6,1205.0 C875.7,1207.6 872.3,1213.0 869.3,1215.5 C866.3,1218.0 860.5,1219.0 858.8,1219.7" stroke="#b0b0b0" stroke-width="1.2"/>
<path class="ln" d="M780.0,1228.1 C783.0,1229.1 789.9,1233.9 797.8,1234.4 C805.7,1234.9 822.4,1231.8 827.3,1231.3" stroke="#b0b0b0" stroke-width="1.2"/>
<path class="ln" d="M784.2,1186.6 Q793.6,1178.7 805.2,1180.8 L805.2,1180.8 Q816.7,1183.0 820.4,1193.0 L820.4,1193.0 Q824.1,1202.9 822.5,1214.5 L822.5,1214.5 Q820.9,1226.0 803.0,1228.7 L803.0,1228.7 Q785.2,1231.3 780.5,1221.3 L780.5,1221.3 Q775.8,1211.3 775.2,1202.9 L775.2,1202.9 Q774.7,1194.5 784.2,1186.6Z" stroke="#b4b4b4"/>
<path d="M788.4,1191.3 Q795.7,1186.1 803.6,1187.7 L803.6,1187.7 Q811.5,1189.3 814.1,1197.1 L814.1,1197.2 Q816.7,1205.0 815.2,1212.9 L815.2,1212.9 Q813.6,1220.8 801.5,1222.3 L801.5,1222.3 Q789.4,1223.9 785.8,1216.6 L785.8,1216.6 Q782.1,1209.2 781.5,1202.9 L781.5,1202.9 Q781.0,1196.6 788.4,1191.3Z" fill="none" stroke="#c6c6c6" stroke-width="3.5"/>
<ellipse cx="874.3" cy="1170.5" rx="8.2" ry="15" fill="#4a4a4a" stroke="#333" stroke-width="1" transform="rotate(-4 874.3 1170.5)"/>
<ellipse cx="873" cy="1170.5" rx="5" ry="11.5" fill="#707070" transform="rotate(-4 873 1170.5)"/>
<path d="M898.4,1123.7 Q898.2,1120.7 900.8,1119.2 L901.0,1119.0 Q903.9,1117.3 906.5,1118.1 L906.5,1118.1 Q909.0,1118.9 911.9,1121.6 L928.3,1137.1 Q931.9,1140.5 933.3,1145.3 L933.3,1145.3 Q934.8,1150.1 935.1,1156.1 L935.5,1166.3 Q935.7,1171.3 934.3,1173.8 L934.3,1173.8 Q932.9,1176.3 929.4,1178.3 L912.5,1188.1 Q909.0,1190.1 906.7,1189.6 L906.7,1189.6 Q904.4,1189.1 903.2,1186.5 L903.2,1186.5 Q902.0,1184.0 899.0,1183.7 L874.4,1180.9 Q870.4,1180.5 868.7,1178.3 L868.7,1178.3 Q867.0,1176.1 866.5,1172.8 L866.5,1172.8 Q866.0,1169.6 867.0,1166.9 L867.0,1166.9 Q867.9,1164.2 871.9,1164.1 L900.0,1163.6 Q902.0,1163.6 901.8,1161.6 L899.3,1134.9 Q898.7,1128.9 898.5,1124.8Z" fill="url(#gKeyL)" stroke="#4f4f4f" stroke-width="1.3" stroke-linejoin="round"/>
<path d="M914.2,1141.5 Q914.1,1139.5 915.9,1140.4 L916.9,1141.0 Q919.6,1142.4 921.1,1146.1 L921.4,1146.8 Q923.2,1151.1 923.4,1157.1 L923.6,1164.4 Q923.8,1169.4 921.7,1172.3 L921.3,1172.9 Q919.6,1175.3 918.0,1175.3 L918.0,1175.3 Q916.5,1175.3 916.4,1173.3Z" fill="#5e5e5e" stroke="#4a4a4a" stroke-width="0.8"/>
<path d="M920.8,1152.1 Q920.8,1150.1 921.8,1151.8 L921.9,1152.0 Q923.0,1153.9 923.1,1156.9 L923.3,1165.9 Q923.4,1168.9 922.1,1170.3 L922.1,1170.3 Q920.8,1171.8 920.8,1169.8Z" fill="#d9d9d9"/>
<path d="M905.4,1125.0 C906.2,1128.5 909.2,1139.1 910.2,1146.2 C911.2,1153.3 911.9,1161.3 911.7,1167.4 C911.5,1173.5 909.6,1180.3 909.2,1182.9" fill="none" stroke="#f6f6f6" stroke-width="2.6" stroke-linecap="round" opacity="0.9"/>
<path d="M872.2,1167.4 C874.6,1167.7 882.0,1168.6 886.6,1168.9 C891.2,1169.2 897.9,1169.3 900.1,1169.4" fill="none" stroke="#f2f2f2" stroke-width="2" stroke-linecap="round" opacity="0.8"/>
<g class="blk">
<path d="M871.4,1133.5 L866.8,1116.0 L873.9,1112.4 L881.0,1102.6 L889.3,1113.6 L883.5,1120.6 L888.1,1125.0Z"/>
<path d="M922.0,1086.8 L932.6,1094.7 L936.6,1088.8 L933.4,1109.7 L916.5,1114.4 L920.8,1108.5 L915.3,1104.6Z"/>
<path d="M883.8,1098.2 L890.1,1093.1 L895.2,1108.1 L890.9,1111.6Z"/>
<path d="M893.6,1090.4 L896.8,1088.8 L899.1,1105.7 L897.2,1106.5Z"/>
<path d="M899.9,1086.8 L902.3,1086.4 L902.7,1104.6 L901.1,1104.6Z"/>
<path d="M905.4,1085.2 L908.2,1085.1 L906.6,1103.4 L904.6,1103.4Z"/>
<path d="M911.7,1084.9 L918.8,1085.2 L914.1,1103.8 L909.0,1103.0Z"/>
</g>
</g>
<!-- leaders -->
<g class="ld">
<line x1="351.1" y1="286.3" x2="366" y2="345"/>
<line x1="462.1" y1="324.5" x2="423.8" y2="393"/>
<line x1="405.5" y1="557" x2="331.9" y2="465.7"/>
<line x1="174.4" y1="391.6" x2="241" y2="463"/>
<line x1="244.5" y1="345.5" x2="277.3" y2="401.5"/>
<line x1="391" y1="1123" x2="392.9" y2="1043"/>
<line x1="458.2" y1="1106.5" x2="433.2" y2="1048.6"/>
</g>
<!-- numbered circles -->
<g>
<circle class="cn" cx="345.7" cy="262" r="24.4"/><text x="345.7" y="272">1</text>
<circle class="cn" cx="475.4" cy="301.5" r="24.4"/><text x="475.4" y="311.5">2</text>
<circle class="cn" cx="421.6" cy="577.3" r="24.4"/><text x="421.6" y="587.3">3</text>
<circle class="cn" cx="158.7" cy="370.2" r="24.4"/><text x="158.7" y="380.2">4</text>
<circle class="cn" cx="232" cy="322" r="24.4"/><text x="232" y="332">5</text>
<circle class="cn" cx="389.9" cy="1148.4" r="24.4"/><text x="389.9" y="1158.4">6</text>
<circle class="cn" cx="467.8" cy="1131.7" r="24.4"/><text x="467.8" y="1141.7">7</text>
<circle class="cn" cx="604.4" cy="271.7" r="24.4"/><text x="604.4" y="281.7">8</text>
<circle class="cn" cx="627.4" cy="1163.2" r="24.4"/><text x="627.4" y="1173.2">9</text>
<circle class="cn" cx="742.1" cy="886" r="24.4"/><text x="742.1" y="896" textLength="28" lengthAdjust="spacingAndGlyphs">10</text>
<circle class="cn" cx="952.6" cy="1223" r="24.4"/><text x="952.6" y="1233" textLength="27" lengthAdjust="spacingAndGlyphs">11</text>
</g>
</svg>
<div class="fig">E134457</div>
<div class="bar b"></div>
<div class="ftr"></div>
<div class="pn">4</div>
</body>
</html>
